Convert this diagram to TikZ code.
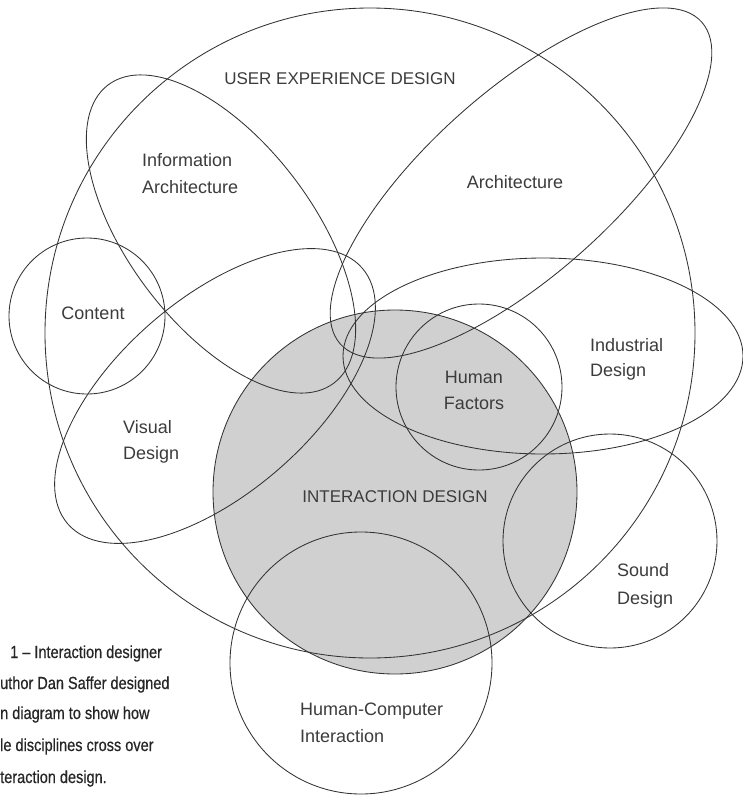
\documentclass[tikz,border=0pt]{standalone}
\usepackage{fontspec}
\setmainfont{Liberation Sans}
\newfontfamily\capfont[FakeStretch=0.83,FakeBold=0.5]{Liberation Sans}
\definecolor{ink}{HTML}{333333}
\definecolor{lbl}{HTML}{3C3C3C}
\definecolor{idfill}{HTML}{D0D0D0}
\begin{document}
\begin{tikzpicture}[x=1pt,y=-1pt,
  ring/.style={draw=ink, line width=0.85pt},
  lab/.style={text=lbl, font=\fontsize{18}{22}\selectfont, inner sep=0pt},
  caps/.style={text=lbl, font=\fontsize{17}{21}\selectfont, inner sep=0pt},
  capt/.style={text=black!85, font=\capfont\fontsize{17.5}{21}\selectfont, inner sep=0pt, anchor=base west}]
\useasboundingbox (0,0) rectangle (743,796);
\fill[white] (0,0) rectangle (743,796);
% interaction design fill
\fill[idfill] (395,492) circle [radius=182];
% shapes
\draw[ring] (370,333) circle [radius=325];                       % user experience design
\draw[ring, shift={(221,234)}, rotate=-52.85] (0,0) ellipse [x radius=187, y radius=92]; % information architecture
\draw[ring, shift={(521,183)}, rotate=41.7] (0,0) ellipse [x radius=242, y radius=92];   % architecture
\draw[ring] (87,316) circle [radius=78];                          % content
\draw[ring, shift={(215,396)}, rotate=41] (0,0) ellipse [x radius=195, y radius=97];     % visual design
\draw[ring] (543,356) ellipse [x radius=200, y radius=98];       % industrial design
\draw[ring] (479,387) circle [radius=83];                         % human factors
\draw[ring] (395,492) circle [radius=182];                        % interaction design
\draw[ring] (610,541) circle [radius=107];                        % sound design
\draw[ring] (361,663) circle [radius=131];                        % HCI
% labels
\node[caps, anchor=base] (ux) at (340,84) {USER EXPERIENCE DESIGN};
\node[lab, anchor=base west] (ia1) at (142,166) {Information};
\node[lab, anchor=base west] (ia2) at (142,193) {Architecture};
\node[lab, anchor=base] (arch) at (515,188) {Architecture};
\node[lab, anchor=base] (cont) at (93,319) {Content};
\node[lab, anchor=base west] (vd1) at (123,433) {Visual};
\node[lab, anchor=base west] (vd2) at (123,459) {Design};
\node[lab, anchor=base west] (ind1) at (590,351) {Industrial};
\node[lab, anchor=base west] (ind2) at (590,376) {Design};
\node[lab, anchor=base] (hf1) at (474,383) {Human};
\node[lab, anchor=base] (hf2) at (474,409) {Factors};
\node[caps, anchor=base] (ixd) at (395,502) {INTERACTION DESIGN};
\node[lab, anchor=base west] (sd1) at (617,576) {Sound};
\node[lab, anchor=base west] (sd2) at (617,604) {Design};
\node[lab, anchor=base west] (hci1) at (300,715) {Human-Computer};
\node[lab, anchor=base west] (hci2) at (300,742) {Interaction};
% caption
\node[capt] (c1) at (10,658) {1 – Interaction designer};
\node[capt] (c2) at (0,689) {uthor Dan Saffer designed};
\node[capt] (c3) at (0,719) {n diagram to show how};
\node[capt] (c4) at (0,751) {le disciplines cross over};
\node[capt] (c5) at (0,783) {teraction design.};
\end{tikzpicture}
\end{document}
